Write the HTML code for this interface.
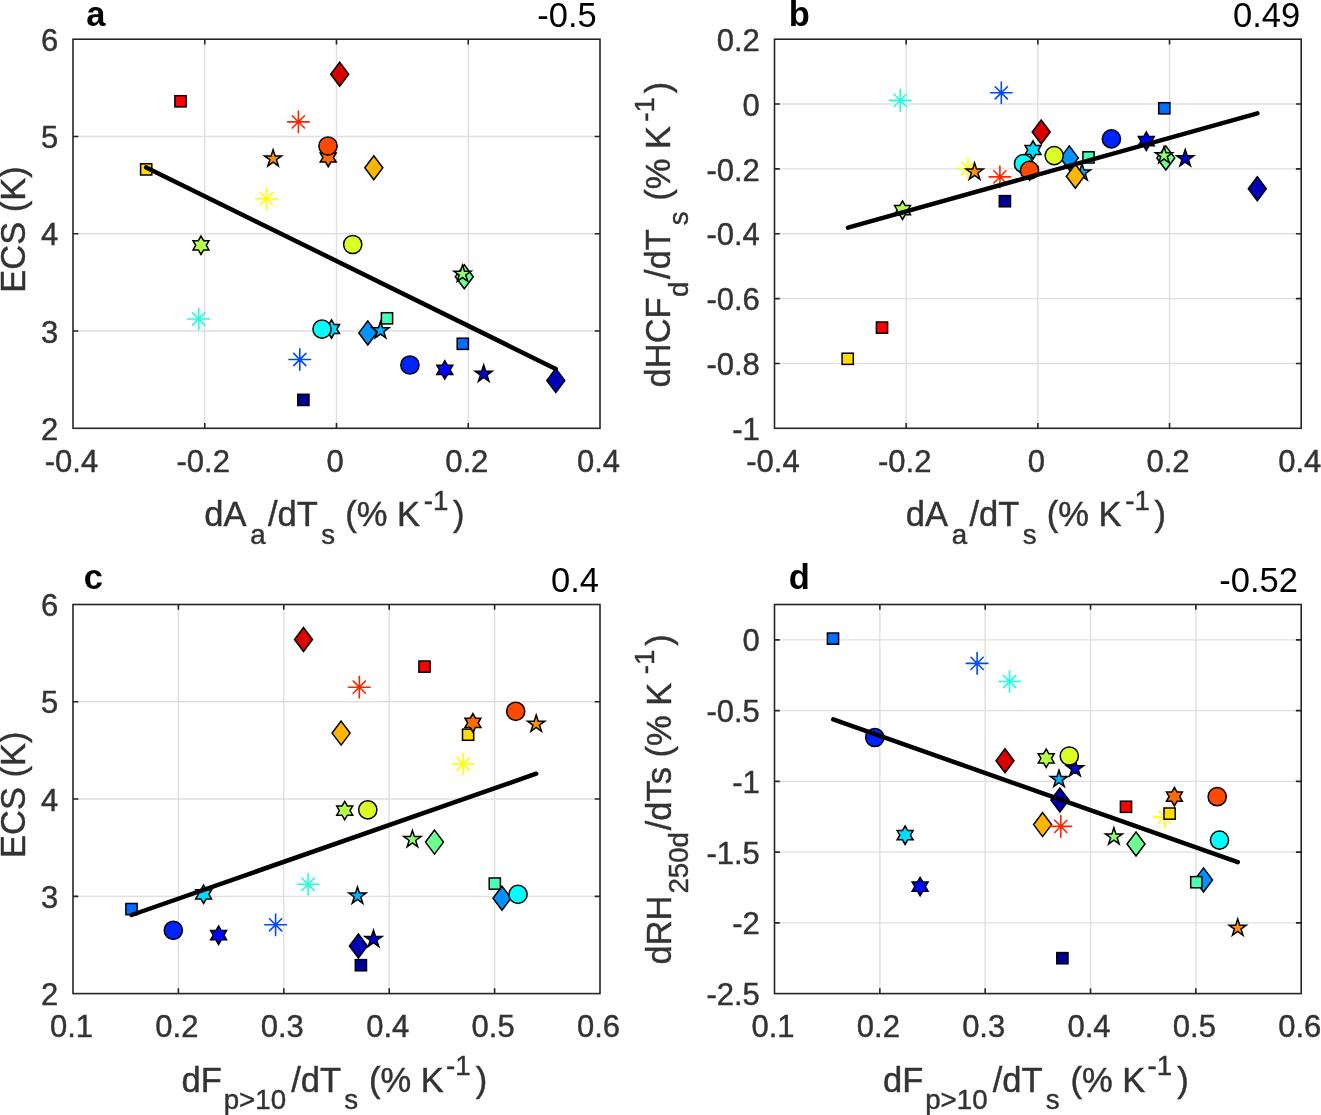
<!DOCTYPE html><html><head><meta charset="utf-8"><style>html,body{margin:0;padding:0;background:#fff;width:1321px;height:1115px;overflow:hidden}</style></head><body><svg width="1321" height="1115" viewBox="0 0 1321 1115" style="display:block;will-change:transform">
<rect width="1321" height="1115" fill="#fff"/>
<path d="M204.75 39.20V428.30M336.50 39.20V428.30M468.25 39.20V428.30M73.00 331.02H600.00M73.00 233.75H600.00M73.00 136.47H600.00" stroke="#dfdfdf" stroke-width="1.4" fill="none"/>
<rect x="297.80" y="394.30" width="11.20" height="11.20" fill="#000092" stroke="#000" stroke-width="1.5"/>
<path d="M555.80 368.60L564.80 380.60L555.80 392.60L546.80 380.60Z" fill="#0000b6" stroke="#000" stroke-width="1.5"/>
<path d="M483.70 365.00L485.72 371.22L492.26 371.22L486.97 375.06L488.99 381.28L483.70 377.44L478.41 381.28L480.43 375.06L475.14 371.22L481.68 371.22Z" fill="#0000db" stroke="#000" stroke-width="1.5"/>
<path d="M444.80 360.70L447.46 365.30L452.77 365.30L450.11 369.90L452.77 374.50L447.46 374.50L444.80 379.10L442.14 374.50L436.83 374.50L439.49 369.90L436.83 365.30L442.14 365.30Z" fill="#0000ff" stroke="#000" stroke-width="1.5"/>
<circle cx="409.90" cy="365.00" r="9.1" fill="#0024ff" stroke="#000" stroke-width="1.5"/>
<path d="M289.00 359.50H310.60M299.80 348.70V370.30M293.70 353.40L305.90 365.60M293.70 365.60L305.90 353.40" fill="none" stroke="#0049ff" stroke-width="1.6" stroke-linecap="round"/>
<rect x="457.20" y="338.20" width="11.20" height="11.20" fill="#006dff" stroke="#000" stroke-width="1.5"/>
<path d="M367.80 320.90L376.80 332.90L367.80 344.90L358.80 332.90Z" fill="#0092ff" stroke="#000" stroke-width="1.5"/>
<path d="M380.50 321.60L382.52 327.82L389.06 327.82L383.77 331.66L385.79 337.88L380.50 334.04L375.21 337.88L377.23 331.66L371.94 327.82L378.48 327.82Z" fill="#00b6ff" stroke="#000" stroke-width="1.5"/>
<path d="M331.50 319.80L334.16 324.40L339.47 324.40L336.81 329.00L339.47 333.60L334.16 333.60L331.50 338.20L328.84 333.60L323.53 333.60L326.19 329.00L323.53 324.40L328.84 324.40Z" fill="#00dbff" stroke="#000" stroke-width="1.5"/>
<circle cx="322.00" cy="329.10" r="9.1" fill="#00ffff" stroke="#000" stroke-width="1.5"/>
<path d="M187.90 319.00H209.50M198.70 308.20V329.80M192.60 312.90L204.80 325.10M192.60 325.10L204.80 312.90" fill="none" stroke="#24ffdb" stroke-width="1.6" stroke-linecap="round"/>
<rect x="381.40" y="312.70" width="11.20" height="11.20" fill="#49ffb6" stroke="#000" stroke-width="1.5"/>
<path d="M464.30 264.80L473.30 276.80L464.30 288.80L455.30 276.80Z" fill="#6dff92" stroke="#000" stroke-width="1.5"/>
<path d="M462.50 265.10L464.52 271.32L471.06 271.32L465.77 275.16L467.79 281.38L462.50 277.54L457.21 281.38L459.23 275.16L453.94 271.32L460.48 271.32Z" fill="#92ff6d" stroke="#000" stroke-width="1.5"/>
<path d="M201.00 236.10L203.66 240.70L208.97 240.70L206.31 245.30L208.97 249.90L203.66 249.90L201.00 254.50L198.34 249.90L193.03 249.90L195.69 245.30L193.03 240.70L198.34 240.70Z" fill="#b6ff49" stroke="#000" stroke-width="1.5"/>
<circle cx="352.70" cy="244.50" r="9.1" fill="#dbff24" stroke="#000" stroke-width="1.5"/>
<path d="M255.70 198.70H277.30M266.50 187.90V209.50M260.40 192.60L272.60 204.80M260.40 204.80L272.60 192.60" fill="none" stroke="#ffff00" stroke-width="1.6" stroke-linecap="round"/>
<rect x="140.60" y="163.80" width="11.20" height="11.20" fill="#ffdb00" stroke="#000" stroke-width="1.5"/>
<path d="M373.80 155.80L382.80 167.80L373.80 179.80L364.80 167.80Z" fill="#ffb600" stroke="#000" stroke-width="1.5"/>
<path d="M273.10 149.70L275.12 155.92L281.66 155.92L276.37 159.76L278.39 165.98L273.10 162.14L267.81 165.98L269.83 159.76L264.54 155.92L271.08 155.92Z" fill="#ff9200" stroke="#000" stroke-width="1.5"/>
<path d="M328.20 148.30L330.86 152.90L336.17 152.90L333.51 157.50L336.17 162.10L330.86 162.10L328.20 166.70L325.54 162.10L320.23 162.10L322.89 157.50L320.23 152.90L325.54 152.90Z" fill="#ff6d00" stroke="#000" stroke-width="1.5"/>
<circle cx="328.00" cy="146.00" r="9.1" fill="#ff4900" stroke="#000" stroke-width="1.5"/>
<path d="M287.60 121.90H309.20M298.40 111.10V132.70M292.30 115.80L304.50 128.00M292.30 128.00L304.50 115.80" fill="none" stroke="#ff2400" stroke-width="1.6" stroke-linecap="round"/>
<rect x="174.90" y="95.70" width="11.20" height="11.20" fill="#ff0000" stroke="#000" stroke-width="1.5"/>
<path d="M339.70 62.20L348.70 74.20L339.70 86.20L330.70 74.20Z" fill="#db0000" stroke="#000" stroke-width="1.5"/>
<path d="M146.2 167.4L555.8 368.9" stroke="#000" stroke-width="4.5" stroke-linecap="round"/>
<path d="M204.75 428.30v-5.3M204.75 39.20v5.3M336.50 428.30v-5.3M336.50 39.20v5.3M468.25 428.30v-5.3M468.25 39.20v5.3M73.00 331.02h5.3M600.00 331.02h-5.3M73.00 233.75h5.3M600.00 233.75h-5.3M73.00 136.47h5.3M600.00 136.47h-5.3" stroke="#262626" stroke-width="1.6" fill="none"/>
<rect x="73.0" y="39.2" width="527.00" height="389.10" fill="none" stroke="#262626" stroke-width="1.6"/>
<text x="71.50" y="471.90" font-family="Liberation Sans, sans-serif" font-size="31" fill="#333" stroke="#333" stroke-width="0.45" text-anchor="middle">-0.4</text>
<text x="203.25" y="471.90" font-family="Liberation Sans, sans-serif" font-size="31" fill="#333" stroke="#333" stroke-width="0.45" text-anchor="middle">-0.2</text>
<text x="335.00" y="471.90" font-family="Liberation Sans, sans-serif" font-size="31" fill="#333" stroke="#333" stroke-width="0.45" text-anchor="middle">0</text>
<text x="466.75" y="471.90" font-family="Liberation Sans, sans-serif" font-size="31" fill="#333" stroke="#333" stroke-width="0.45" text-anchor="middle">0.2</text>
<text x="598.50" y="471.90" font-family="Liberation Sans, sans-serif" font-size="31" fill="#333" stroke="#333" stroke-width="0.45" text-anchor="middle">0.4</text>
<text x="58.30" y="439.90" font-family="Liberation Sans, sans-serif" font-size="31" fill="#333" stroke="#333" stroke-width="0.45" text-anchor="end">2</text>
<text x="58.30" y="342.62" font-family="Liberation Sans, sans-serif" font-size="31" fill="#333" stroke="#333" stroke-width="0.45" text-anchor="end">3</text>
<text x="58.30" y="245.35" font-family="Liberation Sans, sans-serif" font-size="31" fill="#333" stroke="#333" stroke-width="0.45" text-anchor="end">4</text>
<text x="58.30" y="148.07" font-family="Liberation Sans, sans-serif" font-size="31" fill="#333" stroke="#333" stroke-width="0.45" text-anchor="end">5</text>
<text x="58.30" y="50.80" font-family="Liberation Sans, sans-serif" font-size="31" fill="#333" stroke="#333" stroke-width="0.45" text-anchor="end">6</text>
<path d="M906.17 39.20V428.30M1037.85 39.20V428.30M1169.53 39.20V428.30M774.50 363.45H1301.20M774.50 298.60H1301.20M774.50 233.75H1301.20M774.50 168.90H1301.20M774.50 104.05H1301.20" stroke="#dfdfdf" stroke-width="1.4" fill="none"/>
<rect x="999.30" y="195.60" width="11.20" height="11.20" fill="#000092" stroke="#000" stroke-width="1.5"/>
<path d="M1257.30 176.70L1266.30 188.70L1257.30 200.70L1248.30 188.70Z" fill="#0000b6" stroke="#000" stroke-width="1.5"/>
<path d="M1185.20 149.60L1187.22 155.82L1193.76 155.82L1188.47 159.66L1190.49 165.88L1185.20 162.04L1179.91 165.88L1181.93 159.66L1176.64 155.82L1183.18 155.82Z" fill="#0000db" stroke="#000" stroke-width="1.5"/>
<path d="M1146.30 132.00L1148.96 136.60L1154.27 136.60L1151.61 141.20L1154.27 145.80L1148.96 145.80L1146.30 150.40L1143.64 145.80L1138.33 145.80L1140.99 141.20L1138.33 136.60L1143.64 136.60Z" fill="#0000ff" stroke="#000" stroke-width="1.5"/>
<circle cx="1111.40" cy="138.90" r="9.1" fill="#0024ff" stroke="#000" stroke-width="1.5"/>
<path d="M990.50 92.80H1012.10M1001.30 82.00V103.60M995.20 86.70L1007.40 98.90M995.20 98.90L1007.40 86.70" fill="none" stroke="#0049ff" stroke-width="1.6" stroke-linecap="round"/>
<rect x="1158.70" y="102.70" width="11.20" height="11.20" fill="#006dff" stroke="#000" stroke-width="1.5"/>
<path d="M1069.30 145.90L1078.30 157.90L1069.30 169.90L1060.30 157.90Z" fill="#0092ff" stroke="#000" stroke-width="1.5"/>
<path d="M1082.00 163.70L1084.02 169.92L1090.56 169.92L1085.27 173.76L1087.29 179.98L1082.00 176.14L1076.71 179.98L1078.73 173.76L1073.44 169.92L1079.98 169.92Z" fill="#00b6ff" stroke="#000" stroke-width="1.5"/>
<path d="M1033.00 140.80L1035.66 145.40L1040.97 145.40L1038.31 150.00L1040.97 154.60L1035.66 154.60L1033.00 159.20L1030.34 154.60L1025.03 154.60L1027.69 150.00L1025.03 145.40L1030.34 145.40Z" fill="#00dbff" stroke="#000" stroke-width="1.5"/>
<circle cx="1023.50" cy="163.70" r="9.1" fill="#00ffff" stroke="#000" stroke-width="1.5"/>
<path d="M889.40 100.40H911.00M900.20 89.60V111.20M894.10 94.30L906.30 106.50M894.10 106.50L906.30 94.30" fill="none" stroke="#24ffdb" stroke-width="1.6" stroke-linecap="round"/>
<rect x="1082.90" y="151.80" width="11.20" height="11.20" fill="#49ffb6" stroke="#000" stroke-width="1.5"/>
<path d="M1165.80 145.90L1174.80 157.90L1165.80 169.90L1156.80 157.90Z" fill="#6dff92" stroke="#000" stroke-width="1.5"/>
<path d="M1164.00 146.60L1166.02 152.82L1172.56 152.82L1167.27 156.66L1169.29 162.88L1164.00 159.04L1158.71 162.88L1160.73 156.66L1155.44 152.82L1161.98 152.82Z" fill="#92ff6d" stroke="#000" stroke-width="1.5"/>
<path d="M902.50 201.00L905.16 205.60L910.47 205.60L907.81 210.20L910.47 214.80L905.16 214.80L902.50 219.40L899.84 214.80L894.53 214.80L897.19 210.20L894.53 205.60L899.84 205.60Z" fill="#b6ff49" stroke="#000" stroke-width="1.5"/>
<circle cx="1054.20" cy="155.60" r="9.1" fill="#dbff24" stroke="#000" stroke-width="1.5"/>
<path d="M957.20 168.50H978.80M968.00 157.70V179.30M961.90 162.40L974.10 174.60M961.90 174.60L974.10 162.40" fill="none" stroke="#ffff00" stroke-width="1.6" stroke-linecap="round"/>
<rect x="842.10" y="353.20" width="11.20" height="11.20" fill="#ffdb00" stroke="#000" stroke-width="1.5"/>
<path d="M1075.30 164.20L1084.30 176.20L1075.30 188.20L1066.30 176.20Z" fill="#ffb600" stroke="#000" stroke-width="1.5"/>
<path d="M974.60 162.90L976.62 169.12L983.16 169.12L977.87 172.96L979.89 179.18L974.60 175.34L969.31 179.18L971.33 172.96L966.04 169.12L972.58 169.12Z" fill="#ff9200" stroke="#000" stroke-width="1.5"/>
<path d="M1029.70 161.80L1032.36 166.40L1037.67 166.40L1035.01 171.00L1037.67 175.60L1032.36 175.60L1029.70 180.20L1027.04 175.60L1021.73 175.60L1024.39 171.00L1021.73 166.40L1027.04 166.40Z" fill="#ff6d00" stroke="#000" stroke-width="1.5"/>
<circle cx="1029.50" cy="170.40" r="9.1" fill="#ff4900" stroke="#000" stroke-width="1.5"/>
<path d="M989.10 176.90H1010.70M999.90 166.10V187.70M993.80 170.80L1006.00 183.00M993.80 183.00L1006.00 170.80" fill="none" stroke="#ff2400" stroke-width="1.6" stroke-linecap="round"/>
<rect x="876.40" y="322.00" width="11.20" height="11.20" fill="#ff0000" stroke="#000" stroke-width="1.5"/>
<path d="M1041.20 120.00L1050.20 132.00L1041.20 144.00L1032.20 132.00Z" fill="#db0000" stroke="#000" stroke-width="1.5"/>
<path d="M848.0 227.7L1257.4 113.3" stroke="#000" stroke-width="4.5" stroke-linecap="round"/>
<path d="M906.17 428.30v-5.3M906.17 39.20v5.3M1037.85 428.30v-5.3M1037.85 39.20v5.3M1169.53 428.30v-5.3M1169.53 39.20v5.3M774.50 363.45h5.3M1301.20 363.45h-5.3M774.50 298.60h5.3M1301.20 298.60h-5.3M774.50 233.75h5.3M1301.20 233.75h-5.3M774.50 168.90h5.3M1301.20 168.90h-5.3M774.50 104.05h5.3M1301.20 104.05h-5.3" stroke="#262626" stroke-width="1.6" fill="none"/>
<rect x="774.5" y="39.2" width="526.70" height="389.10" fill="none" stroke="#262626" stroke-width="1.6"/>
<text x="773.00" y="471.90" font-family="Liberation Sans, sans-serif" font-size="31" fill="#333" stroke="#333" stroke-width="0.45" text-anchor="middle">-0.4</text>
<text x="904.67" y="471.90" font-family="Liberation Sans, sans-serif" font-size="31" fill="#333" stroke="#333" stroke-width="0.45" text-anchor="middle">-0.2</text>
<text x="1036.35" y="471.90" font-family="Liberation Sans, sans-serif" font-size="31" fill="#333" stroke="#333" stroke-width="0.45" text-anchor="middle">0</text>
<text x="1168.03" y="471.90" font-family="Liberation Sans, sans-serif" font-size="31" fill="#333" stroke="#333" stroke-width="0.45" text-anchor="middle">0.2</text>
<text x="1299.70" y="471.90" font-family="Liberation Sans, sans-serif" font-size="31" fill="#333" stroke="#333" stroke-width="0.45" text-anchor="middle">0.4</text>
<text x="759.80" y="439.90" font-family="Liberation Sans, sans-serif" font-size="31" fill="#333" stroke="#333" stroke-width="0.45" text-anchor="end">-1</text>
<text x="759.80" y="375.05" font-family="Liberation Sans, sans-serif" font-size="31" fill="#333" stroke="#333" stroke-width="0.45" text-anchor="end">-0.8</text>
<text x="759.80" y="310.20" font-family="Liberation Sans, sans-serif" font-size="31" fill="#333" stroke="#333" stroke-width="0.45" text-anchor="end">-0.6</text>
<text x="759.80" y="245.35" font-family="Liberation Sans, sans-serif" font-size="31" fill="#333" stroke="#333" stroke-width="0.45" text-anchor="end">-0.4</text>
<text x="759.80" y="180.50" font-family="Liberation Sans, sans-serif" font-size="31" fill="#333" stroke="#333" stroke-width="0.45" text-anchor="end">-0.2</text>
<text x="759.80" y="115.65" font-family="Liberation Sans, sans-serif" font-size="31" fill="#333" stroke="#333" stroke-width="0.45" text-anchor="end">0</text>
<text x="759.80" y="50.80" font-family="Liberation Sans, sans-serif" font-size="31" fill="#333" stroke="#333" stroke-width="0.45" text-anchor="end">0.2</text>
<path d="M178.40 604.50V993.60M283.80 604.50V993.60M389.20 604.50V993.60M494.60 604.50V993.60M73.00 896.33H600.00M73.00 799.05H600.00M73.00 701.77H600.00" stroke="#dfdfdf" stroke-width="1.4" fill="none"/>
<rect x="355.30" y="959.60" width="11.20" height="11.20" fill="#000092" stroke="#000" stroke-width="1.5"/>
<path d="M358.40 933.90L367.40 945.90L358.40 957.90L349.40 945.90Z" fill="#0000b6" stroke="#000" stroke-width="1.5"/>
<path d="M373.50 930.30L375.52 936.52L382.06 936.52L376.77 940.36L378.79 946.58L373.50 942.74L368.21 946.58L370.23 940.36L364.94 936.52L371.48 936.52Z" fill="#0000db" stroke="#000" stroke-width="1.5"/>
<path d="M218.60 926.00L221.26 930.60L226.57 930.60L223.91 935.20L226.57 939.80L221.26 939.80L218.60 944.40L215.94 939.80L210.63 939.80L213.29 935.20L210.63 930.60L215.94 930.60Z" fill="#0000ff" stroke="#000" stroke-width="1.5"/>
<circle cx="173.30" cy="930.30" r="9.1" fill="#0024ff" stroke="#000" stroke-width="1.5"/>
<path d="M264.80 924.80H286.40M275.60 914.00V935.60M269.50 918.70L281.70 930.90M269.50 930.90L281.70 918.70" fill="none" stroke="#0049ff" stroke-width="1.6" stroke-linecap="round"/>
<rect x="125.90" y="903.50" width="11.20" height="11.20" fill="#006dff" stroke="#000" stroke-width="1.5"/>
<path d="M502.00 886.20L511.00 898.20L502.00 910.20L493.00 898.20Z" fill="#0092ff" stroke="#000" stroke-width="1.5"/>
<path d="M357.50 886.90L359.52 893.12L366.06 893.12L360.77 896.96L362.79 903.18L357.50 899.34L352.21 903.18L354.23 896.96L348.94 893.12L355.48 893.12Z" fill="#00b6ff" stroke="#000" stroke-width="1.5"/>
<path d="M203.60 885.10L206.26 889.70L211.57 889.70L208.91 894.30L211.57 898.90L206.26 898.90L203.60 903.50L200.94 898.90L195.63 898.90L198.29 894.30L195.63 889.70L200.94 889.70Z" fill="#00dbff" stroke="#000" stroke-width="1.5"/>
<circle cx="518.00" cy="894.40" r="9.1" fill="#00ffff" stroke="#000" stroke-width="1.5"/>
<path d="M297.30 884.30H318.90M308.10 873.50V895.10M302.00 878.20L314.20 890.40M302.00 890.40L314.20 878.20" fill="none" stroke="#24ffdb" stroke-width="1.6" stroke-linecap="round"/>
<rect x="489.20" y="878.00" width="11.20" height="11.20" fill="#49ffb6" stroke="#000" stroke-width="1.5"/>
<path d="M434.50 830.10L443.50 842.10L434.50 854.10L425.50 842.10Z" fill="#6dff92" stroke="#000" stroke-width="1.5"/>
<path d="M412.40 830.40L414.42 836.62L420.96 836.62L415.67 840.46L417.69 846.68L412.40 842.84L407.11 846.68L409.13 840.46L403.84 836.62L410.38 836.62Z" fill="#92ff6d" stroke="#000" stroke-width="1.5"/>
<path d="M344.70 801.40L347.36 806.00L352.67 806.00L350.01 810.60L352.67 815.20L347.36 815.20L344.70 819.80L342.04 815.20L336.73 815.20L339.39 810.60L336.73 806.00L342.04 806.00Z" fill="#b6ff49" stroke="#000" stroke-width="1.5"/>
<circle cx="367.80" cy="809.80" r="9.1" fill="#dbff24" stroke="#000" stroke-width="1.5"/>
<path d="M452.30 764.00H473.90M463.10 753.20V774.80M457.00 757.90L469.20 770.10M457.00 770.10L469.20 757.90" fill="none" stroke="#ffff00" stroke-width="1.6" stroke-linecap="round"/>
<rect x="462.50" y="729.10" width="11.20" height="11.20" fill="#ffdb00" stroke="#000" stroke-width="1.5"/>
<path d="M341.10 721.10L350.10 733.10L341.10 745.10L332.10 733.10Z" fill="#ffb600" stroke="#000" stroke-width="1.5"/>
<path d="M536.20 715.00L538.22 721.22L544.76 721.22L539.47 725.06L541.49 731.28L536.20 727.44L530.91 731.28L532.93 725.06L527.64 721.22L534.18 721.22Z" fill="#ff9200" stroke="#000" stroke-width="1.5"/>
<path d="M472.90 713.60L475.56 718.20L480.87 718.20L478.21 722.80L480.87 727.40L475.56 727.40L472.90 732.00L470.24 727.40L464.93 727.40L467.59 722.80L464.93 718.20L470.24 718.20Z" fill="#ff6d00" stroke="#000" stroke-width="1.5"/>
<circle cx="515.70" cy="711.30" r="9.1" fill="#ff4900" stroke="#000" stroke-width="1.5"/>
<path d="M348.50 687.20H370.10M359.30 676.40V698.00M353.20 681.10L365.40 693.30M353.20 693.30L365.40 681.10" fill="none" stroke="#ff2400" stroke-width="1.6" stroke-linecap="round"/>
<rect x="418.90" y="661.00" width="11.20" height="11.20" fill="#ff0000" stroke="#000" stroke-width="1.5"/>
<path d="M303.50 627.50L312.50 639.50L303.50 651.50L294.50 639.50Z" fill="#db0000" stroke="#000" stroke-width="1.5"/>
<path d="M131.6 915.0L536.2 773.7" stroke="#000" stroke-width="4.5" stroke-linecap="round"/>
<path d="M178.40 993.60v-5.3M178.40 604.50v5.3M283.80 993.60v-5.3M283.80 604.50v5.3M389.20 993.60v-5.3M389.20 604.50v5.3M494.60 993.60v-5.3M494.60 604.50v5.3M73.00 896.33h5.3M600.00 896.33h-5.3M73.00 799.05h5.3M600.00 799.05h-5.3M73.00 701.77h5.3M600.00 701.77h-5.3" stroke="#262626" stroke-width="1.6" fill="none"/>
<rect x="73.0" y="604.5" width="527.00" height="389.10" fill="none" stroke="#262626" stroke-width="1.6"/>
<text x="71.50" y="1037.20" font-family="Liberation Sans, sans-serif" font-size="31" fill="#333" stroke="#333" stroke-width="0.45" text-anchor="middle">0.1</text>
<text x="176.90" y="1037.20" font-family="Liberation Sans, sans-serif" font-size="31" fill="#333" stroke="#333" stroke-width="0.45" text-anchor="middle">0.2</text>
<text x="282.30" y="1037.20" font-family="Liberation Sans, sans-serif" font-size="31" fill="#333" stroke="#333" stroke-width="0.45" text-anchor="middle">0.3</text>
<text x="387.70" y="1037.20" font-family="Liberation Sans, sans-serif" font-size="31" fill="#333" stroke="#333" stroke-width="0.45" text-anchor="middle">0.4</text>
<text x="493.10" y="1037.20" font-family="Liberation Sans, sans-serif" font-size="31" fill="#333" stroke="#333" stroke-width="0.45" text-anchor="middle">0.5</text>
<text x="598.50" y="1037.20" font-family="Liberation Sans, sans-serif" font-size="31" fill="#333" stroke="#333" stroke-width="0.45" text-anchor="middle">0.6</text>
<text x="58.30" y="1005.20" font-family="Liberation Sans, sans-serif" font-size="31" fill="#333" stroke="#333" stroke-width="0.45" text-anchor="end">2</text>
<text x="58.30" y="907.93" font-family="Liberation Sans, sans-serif" font-size="31" fill="#333" stroke="#333" stroke-width="0.45" text-anchor="end">3</text>
<text x="58.30" y="810.65" font-family="Liberation Sans, sans-serif" font-size="31" fill="#333" stroke="#333" stroke-width="0.45" text-anchor="end">4</text>
<text x="58.30" y="713.38" font-family="Liberation Sans, sans-serif" font-size="31" fill="#333" stroke="#333" stroke-width="0.45" text-anchor="end">5</text>
<text x="58.30" y="616.10" font-family="Liberation Sans, sans-serif" font-size="31" fill="#333" stroke="#333" stroke-width="0.45" text-anchor="end">6</text>
<path d="M879.84 604.50V993.60M985.18 604.50V993.60M1090.52 604.50V993.60M1195.86 604.50V993.60M774.50 922.85H1301.20M774.50 852.11H1301.20M774.50 781.36H1301.20M774.50 710.62H1301.20M774.50 639.87H1301.20" stroke="#dfdfdf" stroke-width="1.4" fill="none"/>
<rect x="1056.80" y="952.60" width="11.20" height="11.20" fill="#000092" stroke="#000" stroke-width="1.5"/>
<path d="M1059.90 788.10L1068.90 800.10L1059.90 812.10L1050.90 800.10Z" fill="#0000b6" stroke="#000" stroke-width="1.5"/>
<path d="M1075.00 759.60L1077.02 765.82L1083.56 765.82L1078.27 769.66L1080.29 775.88L1075.00 772.04L1069.71 775.88L1071.73 769.66L1066.44 765.82L1072.98 765.82Z" fill="#0000db" stroke="#000" stroke-width="1.5"/>
<path d="M920.10 877.40L922.76 882.00L928.07 882.00L925.41 886.60L928.07 891.20L922.76 891.20L920.10 895.80L917.44 891.20L912.13 891.20L914.79 886.60L912.13 882.00L917.44 882.00Z" fill="#0000ff" stroke="#000" stroke-width="1.5"/>
<circle cx="874.80" cy="737.50" r="9.1" fill="#0024ff" stroke="#000" stroke-width="1.5"/>
<path d="M966.30 663.40H987.90M977.10 652.60V674.20M971.00 657.30L983.20 669.50M971.00 669.50L983.20 657.30" fill="none" stroke="#0049ff" stroke-width="1.6" stroke-linecap="round"/>
<rect x="827.40" y="633.00" width="11.20" height="11.20" fill="#006dff" stroke="#000" stroke-width="1.5"/>
<path d="M1203.50 867.90L1212.50 879.90L1203.50 891.90L1194.50 879.90Z" fill="#0092ff" stroke="#000" stroke-width="1.5"/>
<path d="M1059.00 770.30L1061.02 776.52L1067.56 776.52L1062.27 780.36L1064.29 786.58L1059.00 782.74L1053.71 786.58L1055.73 780.36L1050.44 776.52L1056.98 776.52Z" fill="#00b6ff" stroke="#000" stroke-width="1.5"/>
<path d="M905.10 826.00L907.76 830.60L913.07 830.60L910.41 835.20L913.07 839.80L907.76 839.80L905.10 844.40L902.44 839.80L897.13 839.80L899.79 835.20L897.13 830.60L902.44 830.60Z" fill="#00dbff" stroke="#000" stroke-width="1.5"/>
<circle cx="1219.50" cy="840.10" r="9.1" fill="#00ffff" stroke="#000" stroke-width="1.5"/>
<path d="M998.80 681.50H1020.40M1009.60 670.70V692.30M1003.50 675.40L1015.70 687.60M1003.50 687.60L1015.70 675.40" fill="none" stroke="#24ffdb" stroke-width="1.6" stroke-linecap="round"/>
<rect x="1190.70" y="876.60" width="11.20" height="11.20" fill="#49ffb6" stroke="#000" stroke-width="1.5"/>
<path d="M1136.00 832.00L1145.00 844.00L1136.00 856.00L1127.00 844.00Z" fill="#6dff92" stroke="#000" stroke-width="1.5"/>
<path d="M1113.90 827.70L1115.92 833.92L1122.46 833.92L1117.17 837.76L1119.19 843.98L1113.90 840.14L1108.61 843.98L1110.63 837.76L1105.34 833.92L1111.88 833.92Z" fill="#92ff6d" stroke="#000" stroke-width="1.5"/>
<path d="M1046.20 749.10L1048.86 753.70L1054.17 753.70L1051.51 758.30L1054.17 762.90L1048.86 762.90L1046.20 767.50L1043.54 762.90L1038.23 762.90L1040.89 758.30L1038.23 753.70L1043.54 753.70Z" fill="#b6ff49" stroke="#000" stroke-width="1.5"/>
<circle cx="1069.30" cy="756.00" r="9.1" fill="#dbff24" stroke="#000" stroke-width="1.5"/>
<path d="M1153.80 817.10H1175.40M1164.60 806.30V827.90M1158.50 811.00L1170.70 823.20M1158.50 823.20L1170.70 811.00" fill="none" stroke="#ffff00" stroke-width="1.6" stroke-linecap="round"/>
<rect x="1164.00" y="808.00" width="11.20" height="11.20" fill="#ffdb00" stroke="#000" stroke-width="1.5"/>
<path d="M1042.60 812.60L1051.60 824.60L1042.60 836.60L1033.60 824.60Z" fill="#ffb600" stroke="#000" stroke-width="1.5"/>
<path d="M1237.70 919.00L1239.72 925.22L1246.26 925.22L1240.97 929.06L1242.99 935.28L1237.70 931.44L1232.41 935.28L1234.43 929.06L1229.14 925.22L1235.68 925.22Z" fill="#ff9200" stroke="#000" stroke-width="1.5"/>
<path d="M1174.40 787.50L1177.06 792.10L1182.37 792.10L1179.71 796.70L1182.37 801.30L1177.06 801.30L1174.40 805.90L1171.74 801.30L1166.43 801.30L1169.09 796.70L1166.43 792.10L1171.74 792.10Z" fill="#ff6d00" stroke="#000" stroke-width="1.5"/>
<circle cx="1217.20" cy="796.70" r="9.1" fill="#ff4900" stroke="#000" stroke-width="1.5"/>
<path d="M1050.00 826.40H1071.60M1060.80 815.60V837.20M1054.70 820.30L1066.90 832.50M1054.70 832.50L1066.90 820.30" fill="none" stroke="#ff2400" stroke-width="1.6" stroke-linecap="round"/>
<rect x="1120.40" y="801.20" width="11.20" height="11.20" fill="#ff0000" stroke="#000" stroke-width="1.5"/>
<path d="M1005.00 748.70L1014.00 760.70L1005.00 772.70L996.00 760.70Z" fill="#db0000" stroke="#000" stroke-width="1.5"/>
<path d="M833.2 719.4L1237.8 862.1" stroke="#000" stroke-width="4.5" stroke-linecap="round"/>
<path d="M879.84 993.60v-5.3M879.84 604.50v5.3M985.18 993.60v-5.3M985.18 604.50v5.3M1090.52 993.60v-5.3M1090.52 604.50v5.3M1195.86 993.60v-5.3M1195.86 604.50v5.3M774.50 922.85h5.3M1301.20 922.85h-5.3M774.50 852.11h5.3M1301.20 852.11h-5.3M774.50 781.36h5.3M1301.20 781.36h-5.3M774.50 710.62h5.3M1301.20 710.62h-5.3M774.50 639.87h5.3M1301.20 639.87h-5.3" stroke="#262626" stroke-width="1.6" fill="none"/>
<rect x="774.5" y="604.5" width="526.70" height="389.10" fill="none" stroke="#262626" stroke-width="1.6"/>
<text x="773.00" y="1037.20" font-family="Liberation Sans, sans-serif" font-size="31" fill="#333" stroke="#333" stroke-width="0.45" text-anchor="middle">0.1</text>
<text x="878.34" y="1037.20" font-family="Liberation Sans, sans-serif" font-size="31" fill="#333" stroke="#333" stroke-width="0.45" text-anchor="middle">0.2</text>
<text x="983.68" y="1037.20" font-family="Liberation Sans, sans-serif" font-size="31" fill="#333" stroke="#333" stroke-width="0.45" text-anchor="middle">0.3</text>
<text x="1089.02" y="1037.20" font-family="Liberation Sans, sans-serif" font-size="31" fill="#333" stroke="#333" stroke-width="0.45" text-anchor="middle">0.4</text>
<text x="1194.36" y="1037.20" font-family="Liberation Sans, sans-serif" font-size="31" fill="#333" stroke="#333" stroke-width="0.45" text-anchor="middle">0.5</text>
<text x="1299.70" y="1037.20" font-family="Liberation Sans, sans-serif" font-size="31" fill="#333" stroke="#333" stroke-width="0.45" text-anchor="middle">0.6</text>
<text x="759.80" y="1005.20" font-family="Liberation Sans, sans-serif" font-size="31" fill="#333" stroke="#333" stroke-width="0.45" text-anchor="end">-2.5</text>
<text x="759.80" y="934.45" font-family="Liberation Sans, sans-serif" font-size="31" fill="#333" stroke="#333" stroke-width="0.45" text-anchor="end">-2</text>
<text x="759.80" y="863.71" font-family="Liberation Sans, sans-serif" font-size="31" fill="#333" stroke="#333" stroke-width="0.45" text-anchor="end">-1.5</text>
<text x="759.80" y="792.96" font-family="Liberation Sans, sans-serif" font-size="31" fill="#333" stroke="#333" stroke-width="0.45" text-anchor="end">-1</text>
<text x="759.80" y="722.22" font-family="Liberation Sans, sans-serif" font-size="31" fill="#333" stroke="#333" stroke-width="0.45" text-anchor="end">-0.5</text>
<text x="759.80" y="651.47" font-family="Liberation Sans, sans-serif" font-size="31" fill="#333" stroke="#333" stroke-width="0.45" text-anchor="end">0</text>
<text x="86.2" y="25.60" font-family="Liberation Sans, sans-serif" font-size="34.5" font-weight="bold" fill="#000">a</text>
<text x="788.7" y="25.60" font-family="Liberation Sans, sans-serif" font-size="34.5" font-weight="bold" fill="#000">b</text>
<text x="83.7" y="589.30" font-family="Liberation Sans, sans-serif" font-size="34.5" font-weight="bold" fill="#000">c</text>
<text x="788.7" y="589.30" font-family="Liberation Sans, sans-serif" font-size="34.5" font-weight="bold" fill="#000">d</text>
<text x="596.70" y="26.50" font-family="Liberation Sans, sans-serif" font-size="34.5" fill="#000" text-anchor="end">-0.5</text>
<text x="1300.20" y="26.50" font-family="Liberation Sans, sans-serif" font-size="34.5" fill="#000" text-anchor="end">0.49</text>
<text x="599.00" y="591.80" font-family="Liberation Sans, sans-serif" font-size="34.5" fill="#000" text-anchor="end">0.4</text>
<text x="1297.90" y="591.80" font-family="Liberation Sans, sans-serif" font-size="34.5" fill="#000" text-anchor="end">-0.52</text>
<text x="204.35" y="526.40" font-family="Liberation Sans, sans-serif" font-size="34.5" fill="#333" stroke="#333" stroke-width="0.45">dA</text>
<text x="250.32" y="543.80" font-family="Liberation Sans, sans-serif" font-size="27.7" fill="#333" stroke="#333" stroke-width="0.45">a</text>
<text x="267.90" y="526.40" font-family="Liberation Sans, sans-serif" font-size="34.5" fill="#333" stroke="#333" stroke-width="0.45">/dT</text>
<text x="321.33" y="543.80" font-family="Liberation Sans, sans-serif" font-size="27.7" fill="#333" stroke="#333" stroke-width="0.45">s</text>
<text x="345.36" y="526.40" font-family="Liberation Sans, sans-serif" font-size="34.5" fill="#333" stroke="#333" stroke-width="0.45">(% K</text>
<text x="423.77" y="509.70" font-family="Liberation Sans, sans-serif" font-size="27.7" fill="#333" stroke="#333" stroke-width="0.45">-1</text>
<text x="453.10" y="526.40" font-family="Liberation Sans, sans-serif" font-size="34.5" fill="#333" stroke="#333" stroke-width="0.45">)</text>
<text x="905.85" y="526.40" font-family="Liberation Sans, sans-serif" font-size="34.5" fill="#333" stroke="#333" stroke-width="0.45">dA</text>
<text x="951.82" y="543.80" font-family="Liberation Sans, sans-serif" font-size="27.7" fill="#333" stroke="#333" stroke-width="0.45">a</text>
<text x="969.40" y="526.40" font-family="Liberation Sans, sans-serif" font-size="34.5" fill="#333" stroke="#333" stroke-width="0.45">/dT</text>
<text x="1022.83" y="543.80" font-family="Liberation Sans, sans-serif" font-size="27.7" fill="#333" stroke="#333" stroke-width="0.45">s</text>
<text x="1046.86" y="526.40" font-family="Liberation Sans, sans-serif" font-size="34.5" fill="#333" stroke="#333" stroke-width="0.45">(% K</text>
<text x="1125.27" y="509.70" font-family="Liberation Sans, sans-serif" font-size="27.7" fill="#333" stroke="#333" stroke-width="0.45">-1</text>
<text x="1154.60" y="526.40" font-family="Liberation Sans, sans-serif" font-size="34.5" fill="#333" stroke="#333" stroke-width="0.45">)</text>
<text x="181.55" y="1091.70" font-family="Liberation Sans, sans-serif" font-size="34.5" fill="#333" stroke="#333" stroke-width="0.45">dF</text>
<text x="223.71" y="1109.10" font-family="Liberation Sans, sans-serif" font-size="27.7" fill="#333" stroke="#333" stroke-width="0.45">p&gt;10</text>
<text x="291.20" y="1091.70" font-family="Liberation Sans, sans-serif" font-size="34.5" fill="#333" stroke="#333" stroke-width="0.45">/dT</text>
<text x="344.13" y="1109.10" font-family="Liberation Sans, sans-serif" font-size="27.7" fill="#333" stroke="#333" stroke-width="0.45">s</text>
<text x="368.96" y="1091.70" font-family="Liberation Sans, sans-serif" font-size="34.5" fill="#333" stroke="#333" stroke-width="0.45">(% K</text>
<text x="446.07" y="1075.00" font-family="Liberation Sans, sans-serif" font-size="27.7" fill="#333" stroke="#333" stroke-width="0.45">-1</text>
<text x="475.80" y="1091.70" font-family="Liberation Sans, sans-serif" font-size="34.5" fill="#333" stroke="#333" stroke-width="0.45">)</text>
<text x="883.05" y="1091.70" font-family="Liberation Sans, sans-serif" font-size="34.5" fill="#333" stroke="#333" stroke-width="0.45">dF</text>
<text x="925.21" y="1109.10" font-family="Liberation Sans, sans-serif" font-size="27.7" fill="#333" stroke="#333" stroke-width="0.45">p&gt;10</text>
<text x="992.70" y="1091.70" font-family="Liberation Sans, sans-serif" font-size="34.5" fill="#333" stroke="#333" stroke-width="0.45">/dT</text>
<text x="1045.63" y="1109.10" font-family="Liberation Sans, sans-serif" font-size="27.7" fill="#333" stroke="#333" stroke-width="0.45">s</text>
<text x="1070.46" y="1091.70" font-family="Liberation Sans, sans-serif" font-size="34.5" fill="#333" stroke="#333" stroke-width="0.45">(% K</text>
<text x="1147.57" y="1075.00" font-family="Liberation Sans, sans-serif" font-size="27.7" fill="#333" stroke="#333" stroke-width="0.45">-1</text>
<text x="1177.30" y="1091.70" font-family="Liberation Sans, sans-serif" font-size="34.5" fill="#333" stroke="#333" stroke-width="0.45">)</text>
<text transform="translate(25.40 292.73) rotate(-90)" font-family="Liberation Sans, sans-serif" font-size="34.5" fill="#333" stroke="#333" stroke-width="0.45">ECS (K)</text>
<text transform="translate(25.40 858.03) rotate(-90)" font-family="Liberation Sans, sans-serif" font-size="34.5" fill="#333" stroke="#333" stroke-width="0.45">ECS (K)</text>
<text transform="translate(670.30 387.45) rotate(-90)" font-family="Liberation Sans, sans-serif" font-size="34.5" fill="#333" stroke="#333" stroke-width="0.45">dHCF</text>
<text transform="translate(687.70 296.96) rotate(-90)" font-family="Liberation Sans, sans-serif" font-size="27.7" fill="#333" stroke="#333" stroke-width="0.45">d</text>
<text transform="translate(670.30 278.90) rotate(-90)" font-family="Liberation Sans, sans-serif" font-size="34.5" fill="#333" stroke="#333" stroke-width="0.45">/dT</text>
<text transform="translate(687.70 225.27) rotate(-90)" font-family="Liberation Sans, sans-serif" font-size="27.7" fill="#333" stroke="#333" stroke-width="0.45">s</text>
<text transform="translate(670.30 200.84) rotate(-90)" font-family="Liberation Sans, sans-serif" font-size="34.5" fill="#333" stroke="#333" stroke-width="0.45">(% K</text>
<text transform="translate(653.60 121.73) rotate(-90)" font-family="Liberation Sans, sans-serif" font-size="27.7" fill="#333" stroke="#333" stroke-width="0.45">-1</text>
<text transform="translate(670.30 93.20) rotate(-90)" font-family="Liberation Sans, sans-serif" font-size="34.5" fill="#333" stroke="#333" stroke-width="0.45">)</text>
<text transform="translate(670.90 964.55) rotate(-90)" font-family="Liberation Sans, sans-serif" font-size="34.5" fill="#333" stroke="#333" stroke-width="0.45">dRH</text>
<text transform="translate(688.30 893.59) rotate(-90)" font-family="Liberation Sans, sans-serif" font-size="27.7" fill="#333" stroke="#333" stroke-width="0.45">250d</text>
<text transform="translate(670.90 830.30) rotate(-90)" font-family="Liberation Sans, sans-serif" font-size="34.5" fill="#333" stroke="#333" stroke-width="0.45">/dTs (% K</text>
<text transform="translate(654.20 674.23) rotate(-90)" font-family="Liberation Sans, sans-serif" font-size="27.7" fill="#333" stroke="#333" stroke-width="0.45">-1</text>
<text transform="translate(670.90 645.80) rotate(-90)" font-family="Liberation Sans, sans-serif" font-size="34.5" fill="#333" stroke="#333" stroke-width="0.45">)</text>
</svg></body></html>
